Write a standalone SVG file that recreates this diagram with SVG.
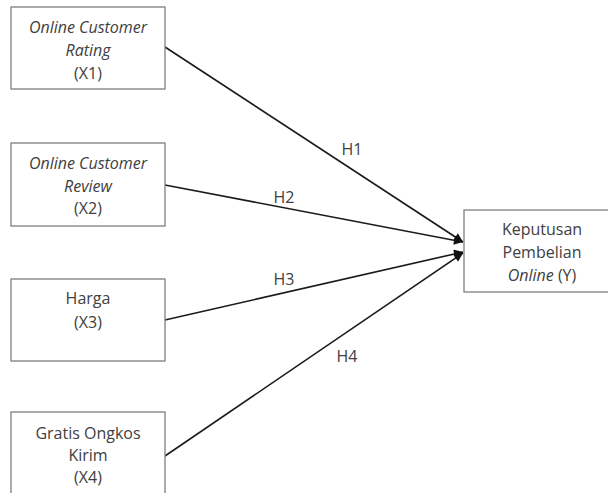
<svg xmlns="http://www.w3.org/2000/svg" width="608" height="493" viewBox="0 0 608 493">
<defs>
<style>
.box{fill:#fff;stroke:#7f7f7f;stroke-width:1.3}
.t{font-family:"Open Sans","Liberation Sans",sans-serif;font-size:16px;fill:#404040;text-anchor:middle}
.i{font-style:italic}
.l{font-family:"Open Sans","Liberation Sans",sans-serif;font-size:16px;fill:#404040;text-anchor:middle}
.c{stroke:#1a1a1a;stroke-width:1.6;fill:none;marker-end:url(#ah)}
</style>
<marker id="ah" viewBox="0 0 10 10" refX="10" refY="5" markerWidth="11" markerHeight="9" markerUnits="userSpaceOnUse" orient="auto">
<path d="M0,0 L10,5 L0,10 z" fill="#111"/>
</marker>
</defs>
<rect width="608" height="493" fill="#fff"/>
<g id="connectors">
<line class="c" x1="165" y1="47" x2="463" y2="242"/>
<line class="c" x1="165" y1="185" x2="463" y2="242"/>
<line class="c" x1="165" y1="320" x2="463" y2="252"/>
<line class="c" x1="165" y1="456" x2="463" y2="253"/>
<text class="l" x="352" y="155">H1</text>
<text class="l" x="284" y="203">H2</text>
<text class="l" x="284" y="285">H3</text>
<text class="l" x="347" y="362">H4</text>
</g>
<g id="x1">
<rect class="box" x="11" y="7" width="154" height="82"/>
<text class="t i" x="88" y="33" font-size="16.5">Online Customer</text>
<text class="t i" x="88" y="56" font-size="16.5">Rating</text>
<text class="t" x="88" y="79">(X1)</text>
</g>
<g id="x2">
<rect class="box" x="11" y="143" width="154" height="83"/>
<text class="t i" x="88" y="169" font-size="16.5">Online Customer</text>
<text class="t i" x="88" y="192" font-size="16.5">Review</text>
<text class="t" x="88" y="214">(X2)</text>
</g>
<g id="x3">
<rect class="box" x="11" y="279" width="154" height="82"/>
<text class="t" x="88" y="304">Harga</text>
<text class="t" x="88" y="328">(X3)</text>
</g>
<g id="x4">
<rect class="box" x="11" y="412" width="154" height="90"/>
<text class="t" x="88" y="439">Gratis Ongkos</text>
<text class="t" x="88" y="461">Kirim</text>
<text class="t" x="88" y="483">(X4)</text>
</g>
<g id="y">
<rect class="box" x="464" y="210" width="156" height="82"/>
<text class="t" x="542" y="235">Keputusan</text>
<text class="t" x="542" y="258">Pembelian</text>
<text class="t" x="542" y="281"><tspan class="i">Online</tspan> (Y)</text>
</g>
</svg>
